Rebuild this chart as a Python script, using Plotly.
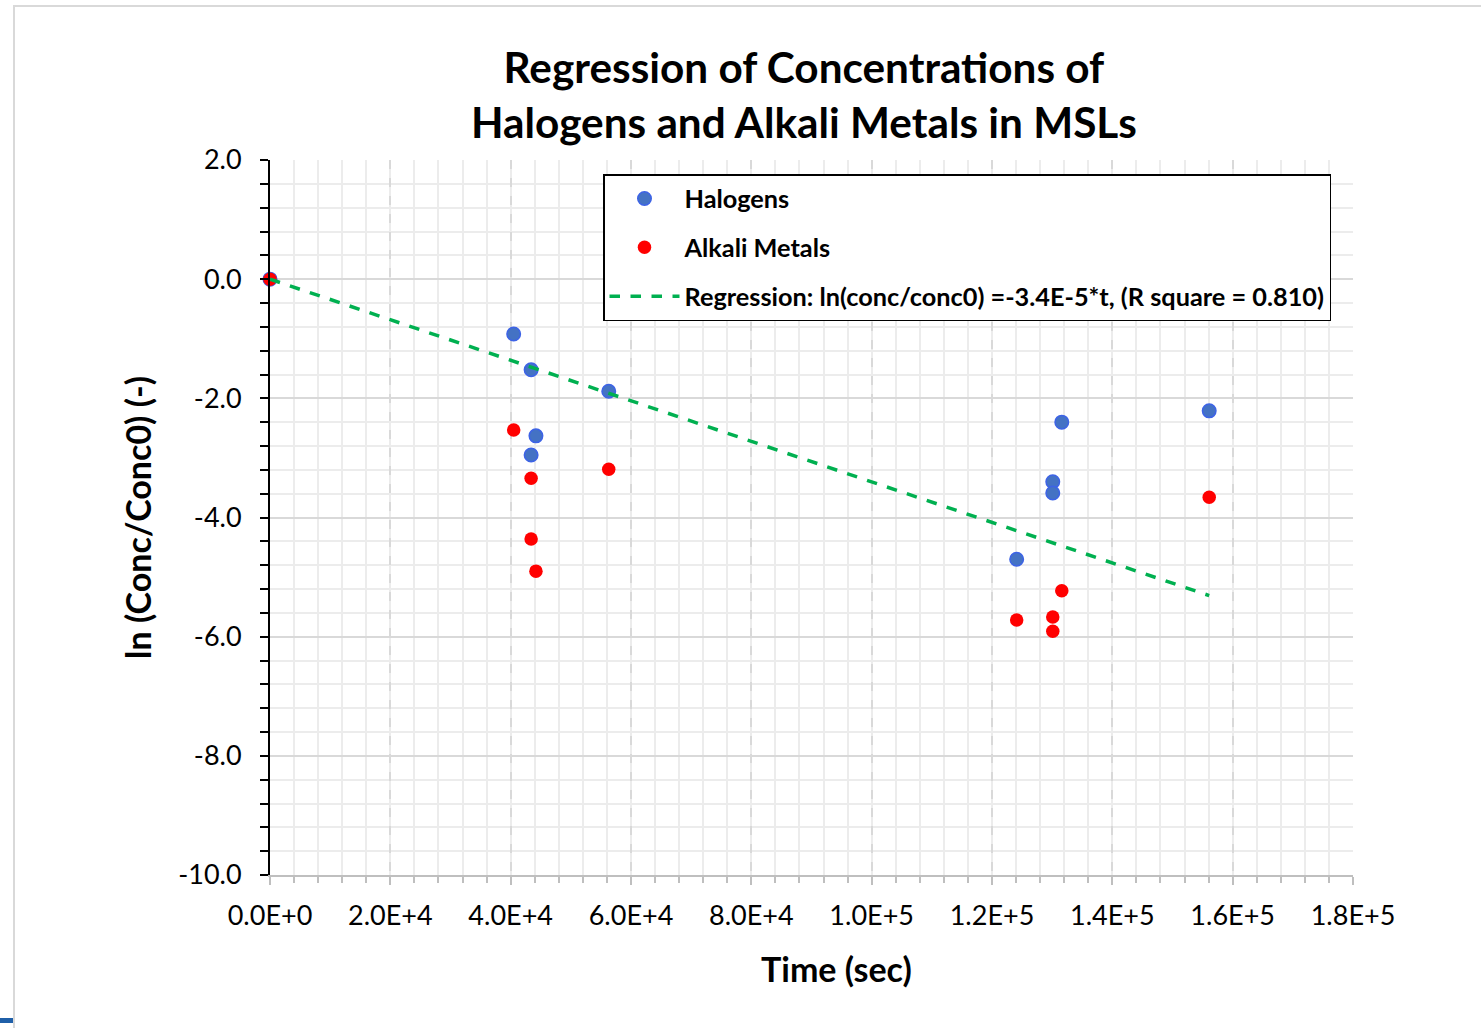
import plotly.graph_objects as go

# ---- data ----
halogen_t = [0, 40500, 43400, 56300, 44200, 43400, 124100, 130100, 130100, 131600, 156100]
halogen_y = [0.0, -0.92, -1.52, -1.88, -2.63, -2.95, -4.70, -3.40, -3.59, -2.40, -2.21]

alkali_t = [0, 40500, 43400, 43400, 44200, 56300, 124100, 130100, 130100, 131600, 156100]
alkali_y = [0.0, -2.53, -3.34, -4.36, -4.90, -3.19, -5.72, -5.67, -5.91, -5.23, -3.66]

regression_t = [0, 156100]
regression_y = [0.0, -5.31]

x_tickvals = [0, 20000, 40000, 60000, 80000, 100000, 120000, 140000, 160000, 180000]
x_ticktext = ["0.0E+0", "2.0E+4", "4.0E+4", "6.0E+4", "8.0E+4", "1.0E+5",
              "1.2E+5", "1.4E+5", "1.6E+5", "1.8E+5"]
y_tickvals = [2, 0, -2, -4, -6, -8, -10]
y_ticktext = ["2.0", "0.0", "-2.0", "-4.0", "-6.0", "-8.0", "-10.0"]

W, H = 1481, 1028
L, R, T, B = 270, 1353, 160, 875
FONT = "Lato"

def px(xp):
    return (xp - L) / (R - L)

def py(yp):
    return (B - yp) / (B - T)

fig = go.Figure()
fig.add_trace(go.Scatter(
    x=halogen_t, y=halogen_y, mode="markers", name="Halogens",
    legendgroup="a", cliponaxis=False,
    marker=dict(size=13.5, color="#4472C4", line=dict(color="#3D63E6", width=1.5)),
))
fig.add_trace(go.Scatter(
    x=alkali_t, y=alkali_y, mode="markers", name="Alkali Metals",
    legendgroup="b", cliponaxis=False,
    marker=dict(size=13.5, color="#FF0000", line=dict(width=0)),
))
fig.add_trace(go.Scatter(
    x=regression_t, y=regression_y, mode="lines",
    name="Regression: ln(conc/conc0) =-3.4E-5*t, (R square = 0.810)",
    legendgroup="c",
    line=dict(color="#00B050", width=3.5, dash="dash"),
))

fig.update_layout(
    width=W, height=H,
    margin=dict(l=L, r=W - R, t=T, b=H - B, autoexpand=False),
    paper_bgcolor="white", plot_bgcolor="white",
    font=dict(family=FONT, color="black"),
    showlegend=True,
    legend=dict(
        x=px(603), y=py(174), xanchor="left", yanchor="top",
        bordercolor="black", borderwidth=1.5, bgcolor="white",
        font=dict(family=FONT, size=25.3, color="black", weight="bold"),
        tracegroupgap=13, itemwidth=70,
    ),
    xaxis=dict(
        range=[0, 180000], tickmode="array", tickvals=x_tickvals, ticktext=x_ticktext,
        showgrid=True, gridcolor="#d9d9d9", griddash="dash", gridwidth=1.5,
        zeroline=False, showline=True, linecolor="#bfbfbf", linewidth=2,
        ticks="outside", ticklen=8, tickcolor="#bfbfbf", tickwidth=2,
        tickfont=dict(size=27, family=FONT, color="black"),
        ticklabelstandoff=8,
        minor=dict(dtick=4000, tick0=0, showgrid=True, gridcolor="#ececec", gridwidth=1.5,
                   griddash="solid",
                   ticks="outside", ticklen=6, tickcolor="#bfbfbf", tickwidth=1.5),
    ),
    yaxis=dict(
        range=[-10, 2], tickmode="array", tickvals=y_tickvals, ticktext=y_ticktext,
        showgrid=True, gridcolor="#d9d9d9", gridwidth=1.5, griddash="solid",
        zeroline=False, showline=True, linecolor="black", linewidth=2,
        ticks="outside", ticklen=8, tickcolor="black", tickwidth=2,
        tickfont=dict(size=27, family=FONT, color="black"),
        ticklabelstandoff=13,
        minor=dict(dtick=0.4, tick0=0, showgrid=True, gridcolor="#ececec", gridwidth=1.5,
                   griddash="solid",
                   ticks="outside", ticklen=8, tickcolor="black", tickwidth=2),
    ),
    annotations=[
        dict(text="Regression of Concentrations of<br>Halogens and Alkali Metals in MSLs",
             x=px(804), y=py(94), xref="paper", yref="paper",
             xanchor="center", yanchor="middle", showarrow=False,
             font=dict(family=FONT, size=42.3, color="black", weight="bold")),
        dict(text="Time (sec)", x=px(836), y=py(968), xref="paper", yref="paper",
             xanchor="center", yanchor="middle", showarrow=False,
             font=dict(family=FONT, size=34, color="black", weight="bold")),
        dict(text="ln (Conc/Conc0) (-)", x=px(137), y=py(518), xref="paper", yref="paper",
             xanchor="center", yanchor="middle", showarrow=False, textangle=-90,
             font=dict(family=FONT, size=34, color="black", weight="bold")),
    ],
    shapes=[
        dict(type="rect", xref="paper", yref="paper",
             x0=px(14), x1=px(1500), y0=py(1040), y1=py(6),
             line=dict(color="#d9d9d9", width=2), fillcolor="rgba(0,0,0,0)", layer="below"),
        dict(type="rect", xref="paper", yref="paper",
             x0=px(0), x1=px(13), y0=py(1023), y1=py(1018),
             line=dict(width=0), fillcolor="#1f5fa8"),
    ],
)

fig.write_html("out.html")
